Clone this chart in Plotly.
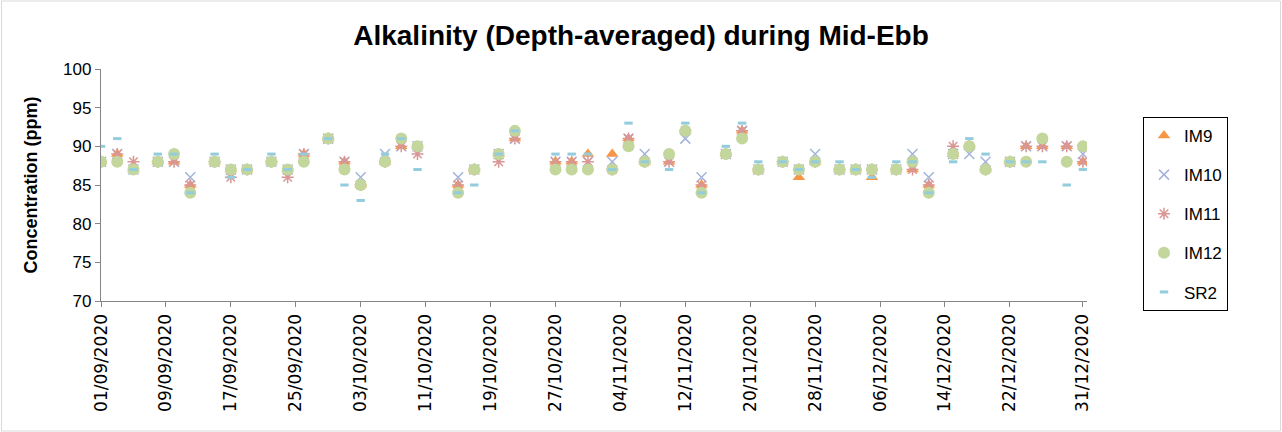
import plotly.graph_objects as go
import pandas as pd

dates = [
    "2020-09-01", "2020-09-03", "2020-09-05", "2020-09-08", "2020-09-10", "2020-09-12",
    "2020-09-15", "2020-09-17", "2020-09-19", "2020-09-22", "2020-09-24", "2020-09-26",
    "2020-09-29",
    "2020-10-01", "2020-10-03", "2020-10-06", "2020-10-08", "2020-10-10", "2020-10-15",
    "2020-10-17", "2020-10-20", "2020-10-22", "2020-10-27", "2020-10-29", "2020-10-31",
    "2020-11-03", "2020-11-05", "2020-11-07", "2020-11-10", "2020-11-12", "2020-11-14",
    "2020-11-17", "2020-11-19", "2020-11-21", "2020-11-24", "2020-11-26", "2020-11-28",
    "2020-12-01", "2020-12-03", "2020-12-05", "2020-12-08", "2020-12-10", "2020-12-12",
    "2020-12-15", "2020-12-17", "2020-12-19", "2020-12-22", "2020-12-24", "2020-12-26",
    "2020-12-29", "2020-12-31",
]

im9 = [88, 89, 87, 88, 88, 85, 88, 87, 87, 88, 87, 89, 91,
       88, 85, 88, 90, 90, 85, 87, 89, 91, 88, 88, 89,
       89, 91, 88, 88, 92, 85, 89, 92, 87, 88, 86, 88,
       87, 87, 86, 87, 87, 85, 89, 90, 87, 88, 90, 90, 90, 88]

im10 = [88, 89, 87, 88, 88, 86, 88, 87, 87, 88, 87, 89, 91,
        88, 86, 89, 90, 90, 86, 87, 89, 91, 88, 88, 88,
        88, 91, 89, 88, 91, 86, 89, 92, 87, 88, 87, 89,
        87, 87, 87, 87, 89, 86, 89, 89, 88, 88, 90, 90, 90, 89]

im11 = [88, 89, 88, 88, 88, 85, 88, 86, 87, 88, 86, 89, 91,
        88, 85, 88, 90, 89, 85, 87, 88, 91, 88, 88, 88,
        87, 91, 88, 88, 92, 85, 89, 92, 87, 88, 87, 88,
        87, 87, 87, 87, 87, 85, 90, 90, 87, 88, 90, 90, 90, 88]

im12 = [88, 88, 87, 88, 89, 84, 88, 87, 87, 88, 87, 88, 91,
        87, 85, 88, 91, 90, 84, 87, 89, 92, 87, 87, 87,
        87, 90, 88, 89, 92, 84, 89, 91, 87, 88, 87, 88,
        87, 87, 87, 87, 88, 84, 89, 90, 87, 88, 88, 91, 88, 90]

sr2 = [90, 91, 87, 89, 89, 84, 89, 86, 87, 89, 87, 89, 91,
       85, 83, 89, 91, 87, 84, 85, 89, 92, 89, 89, 89,
       87, 93, 88, 87, 93, 84, 90, 93, 88, 88, 87, 88,
       88, 87, 86, 88, 88, 84, 88, 91, 89, 88, 88, 88, 85, 87]

tick_dates = list(pd.date_range("2020-09-01", "2020-12-22", freq="8D").strftime("%Y-%m-%d")) + ["2020-12-31"]

x = pd.to_datetime(dates)

fig = go.Figure()
fig.add_trace(go.Scatter(x=x, y=im9, mode="markers", name="IM9", legendgroup="a",
                         marker=dict(symbol="triangle-up", size=11, color="#F79646")))
fig.add_trace(go.Scatter(x=x, y=im10, mode="markers", name="IM10", legendgroup="b",
                         marker=dict(symbol="x-thin-open", size=10, color="#A3B3DB",
                                     line=dict(width=1.5, color="#A3B3DB"))))
fig.add_trace(go.Scatter(x=x, y=im11, mode="markers", name="IM11", legendgroup="c",
                         marker=dict(symbol="asterisk-open", size=10, color="#D99694",
                                     line=dict(width=1.5, color="#D99694"))))
fig.add_trace(go.Scatter(x=x, y=im12, mode="markers", name="IM12", legendgroup="d",
                         marker=dict(symbol="circle", size=12, color="#C3D69B")))
fig.add_trace(go.Scatter(x=x, y=sr2, mode="markers", name="SR2", legendgroup="e",
                         marker=dict(symbol="line-ew-open", size=6, color="#93CDDD",
                                     line=dict(width=3, color="#93CDDD"))))

fig.update_layout(
    width=1282, height=432,
    margin=dict(l=101, r=195, t=69, b=131),
    paper_bgcolor="white", plot_bgcolor="white",
    title=dict(text="<b>Alkalinity (Depth-averaged) during Mid-Ebb</b>",
               x=641 / 1282, xref="container", xanchor="center", y=1 - 35 / 432, yanchor="middle",
               font=dict(family="Liberation Sans", size=28, color="black")),
    showlegend=True,
    legend=dict(x=1.0 + (1143 - 1087) / 986, xanchor="left", y=1 - (117 - 69) / 232, yanchor="top",
                bordercolor="black", borderwidth=1, bgcolor="white",
                font=dict(family="Liberation Sans", size=17, color="black"),
                traceorder="grouped", tracegroupgap=14),
    font=dict(family="Liberation Sans", color="black"),
)

fig.update_xaxes(
    type="date", range=["2020-09-01", "2020-12-31T12:00"],
    tickmode="array", tickvals=tick_dates, tickformat="%d/%m/%Y", tickangle=-90,
    tickfont=dict(family="DejaVu Sans", size=17, color="black"),
    showline=True, linecolor="#868686", linewidth=1.3,
    ticks="outside", ticklen=5, tickcolor="#868686",
    showgrid=False, zeroline=False,
)
fig.update_yaxes(
    range=[70, 100], dtick=5, tick0=70,
    tickfont=dict(family="Liberation Sans", size=17, color="black"),
    showline=True, linecolor="#868686", linewidth=1.3,
    ticks="outside", ticklen=5, tickcolor="#868686",
    showgrid=False, zeroline=False,
    title=dict(text="<b>Concentration (ppm)</b>", font=dict(family="Liberation Sans", size=18, color="black"),
               standoff=20),
)

# outer chart border
fig.add_shape(type="rect", xref="paper", yref="paper",
              x0=(1.5 - 101) / 986, x1=(1280.5 - 101) / 986,
              y0=(301 - 431) / 232, y1=(301 - 1) / 232,
              line=dict(color="#D9D9D9", width=1), fillcolor="rgba(0,0,0,0)", layer="below")

fig.write_html("out.html", config={"displayModeBar": False},
               post_script="document.body.style.margin='0px';document.body.style.overflow='hidden';")
